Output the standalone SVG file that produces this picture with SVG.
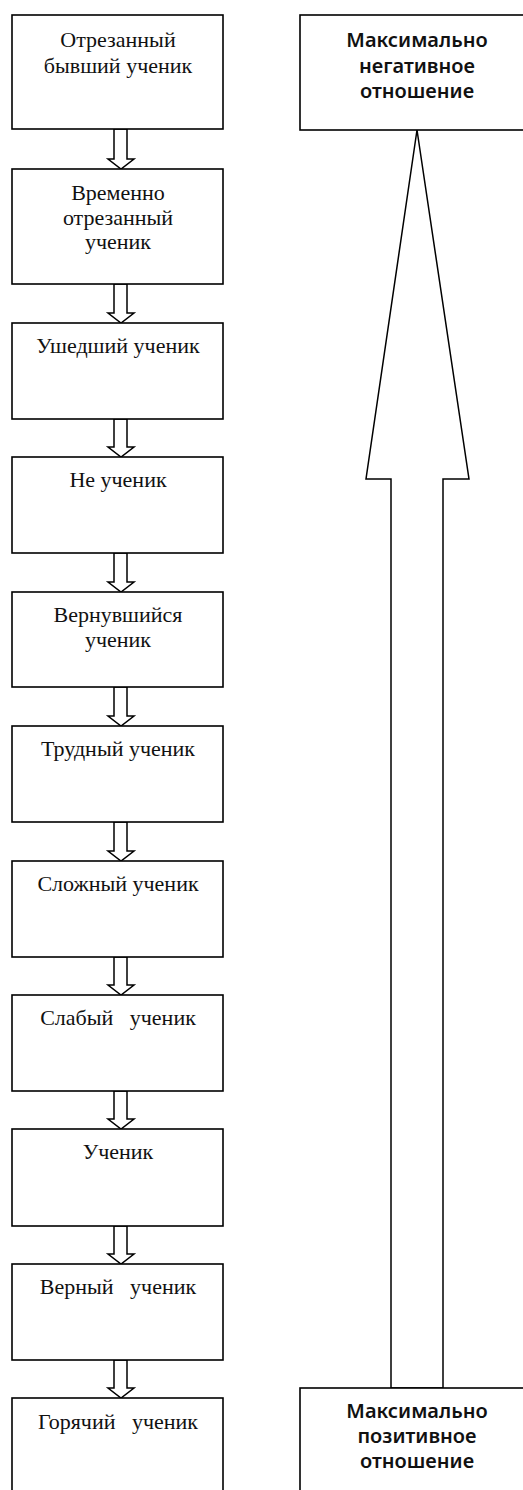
<svg xmlns="http://www.w3.org/2000/svg" width="523" height="1490" viewBox="0 0 523 1490">
<style>
.box{fill:#fff;stroke:#000;stroke-width:1.6}
.arr{fill:#fff;stroke:#000;stroke-width:1.5;stroke-linejoin:miter}
.lt{font-family:"Liberation Serif","Times New Roman",serif;font-size:22px;fill:#111;text-anchor:middle;white-space:pre}
.rt{font-family:"Noto Sans","DejaVu Sans",sans-serif;font-size:20px;font-weight:600;fill:#111;text-anchor:middle}
</style>
<rect width="523" height="1490" fill="#fff"/>
<g id="connectors">
<polygon class="arr" points="114,129 114,159 108,159 121,169 134,159 127,159 127,129"/>
<polygon class="arr" points="114,284 114,313 108,313 121,323 134,313 127,313 127,284"/>
<polygon class="arr" points="114,419 114,447 108,447 121,457 134,447 127,447 127,419"/>
<polygon class="arr" points="114,553 114,582 108,582 121,592 134,582 127,582 127,553"/>
<polygon class="arr" points="114,687 114,716 108,716 121,726 134,716 127,716 127,687"/>
<polygon class="arr" points="114,822 114,851 108,851 121,861 134,851 127,851 127,822"/>
<polygon class="arr" points="114,957 114,985 108,985 121,995 134,985 127,985 127,957"/>
<polygon class="arr" points="114,1091 114,1119 108,1119 121,1129 134,1119 127,1119 127,1091"/>
<polygon class="arr" points="114,1226 114,1254 108,1254 121,1264 134,1254 127,1254 127,1226"/>
<polygon class="arr" points="114,1360 114,1388 108,1388 121,1398 134,1388 127,1388 127,1360"/>
<polygon class="arr" points="391,1388 391,479 366,479 417,130 469,479 443,479 443,1388"/>
</g>
<g id="n1"><rect class="box" x="12" y="15" width="211" height="114"/><text class="lt" x="118" y="47">Отрезанный</text><text class="lt" x="118" y="73">бывший ученик</text></g>
<g id="n2"><rect class="box" x="12" y="169" width="211" height="115"/><text class="lt" x="118" y="200">Временно</text><text class="lt" x="118" y="225">отрезанный</text><text class="lt" x="118" y="249">ученик</text></g>
<g id="n3"><rect class="box" x="12" y="323" width="211" height="96"/><text class="lt" x="118" y="353">Ушедший ученик</text></g>
<g id="n4"><rect class="box" x="12" y="457" width="211" height="96"/><text class="lt" x="118" y="487">Не ученик</text></g>
<g id="n5"><rect class="box" x="12" y="592" width="211" height="95"/><text class="lt" x="118" y="622">Вернувшийся</text><text class="lt" x="118" y="647">ученик</text></g>
<g id="n6"><rect class="box" x="12" y="726" width="211" height="96"/><text class="lt" x="118" y="756">Трудный ученик</text></g>
<g id="n7"><rect class="box" x="12" y="861" width="211" height="96"/><text class="lt" x="118" y="891">Сложный ученик</text></g>
<g id="n8"><rect class="box" x="12" y="995" width="211" height="96"/><text class="lt" x="118" y="1025">Слабый   ученик</text></g>
<g id="n9"><rect class="box" x="12" y="1129" width="211" height="97"/><text class="lt" x="118" y="1159">Ученик</text></g>
<g id="n10"><rect class="box" x="12" y="1264" width="211" height="96"/><text class="lt" x="118" y="1294">Верный   ученик</text></g>
<g id="n11"><rect class="box" x="12" y="1398" width="211" height="120"/><text class="lt" x="118" y="1429">Горячий   ученик</text></g>
<g id="neg"><rect class="box" x="300" y="15" width="240" height="115"/><text class="rt" x="417" y="47">Максимально</text><text class="rt" x="417" y="73">негативное</text><text class="rt" x="417" y="98">отношение</text></g>
<g id="pos"><rect class="box" x="300" y="1388" width="240" height="130"/><text class="rt" x="417" y="1418">Максимально</text><text class="rt" x="417" y="1443">позитивное</text><text class="rt" x="417" y="1468">отношение</text></g>
</svg>
